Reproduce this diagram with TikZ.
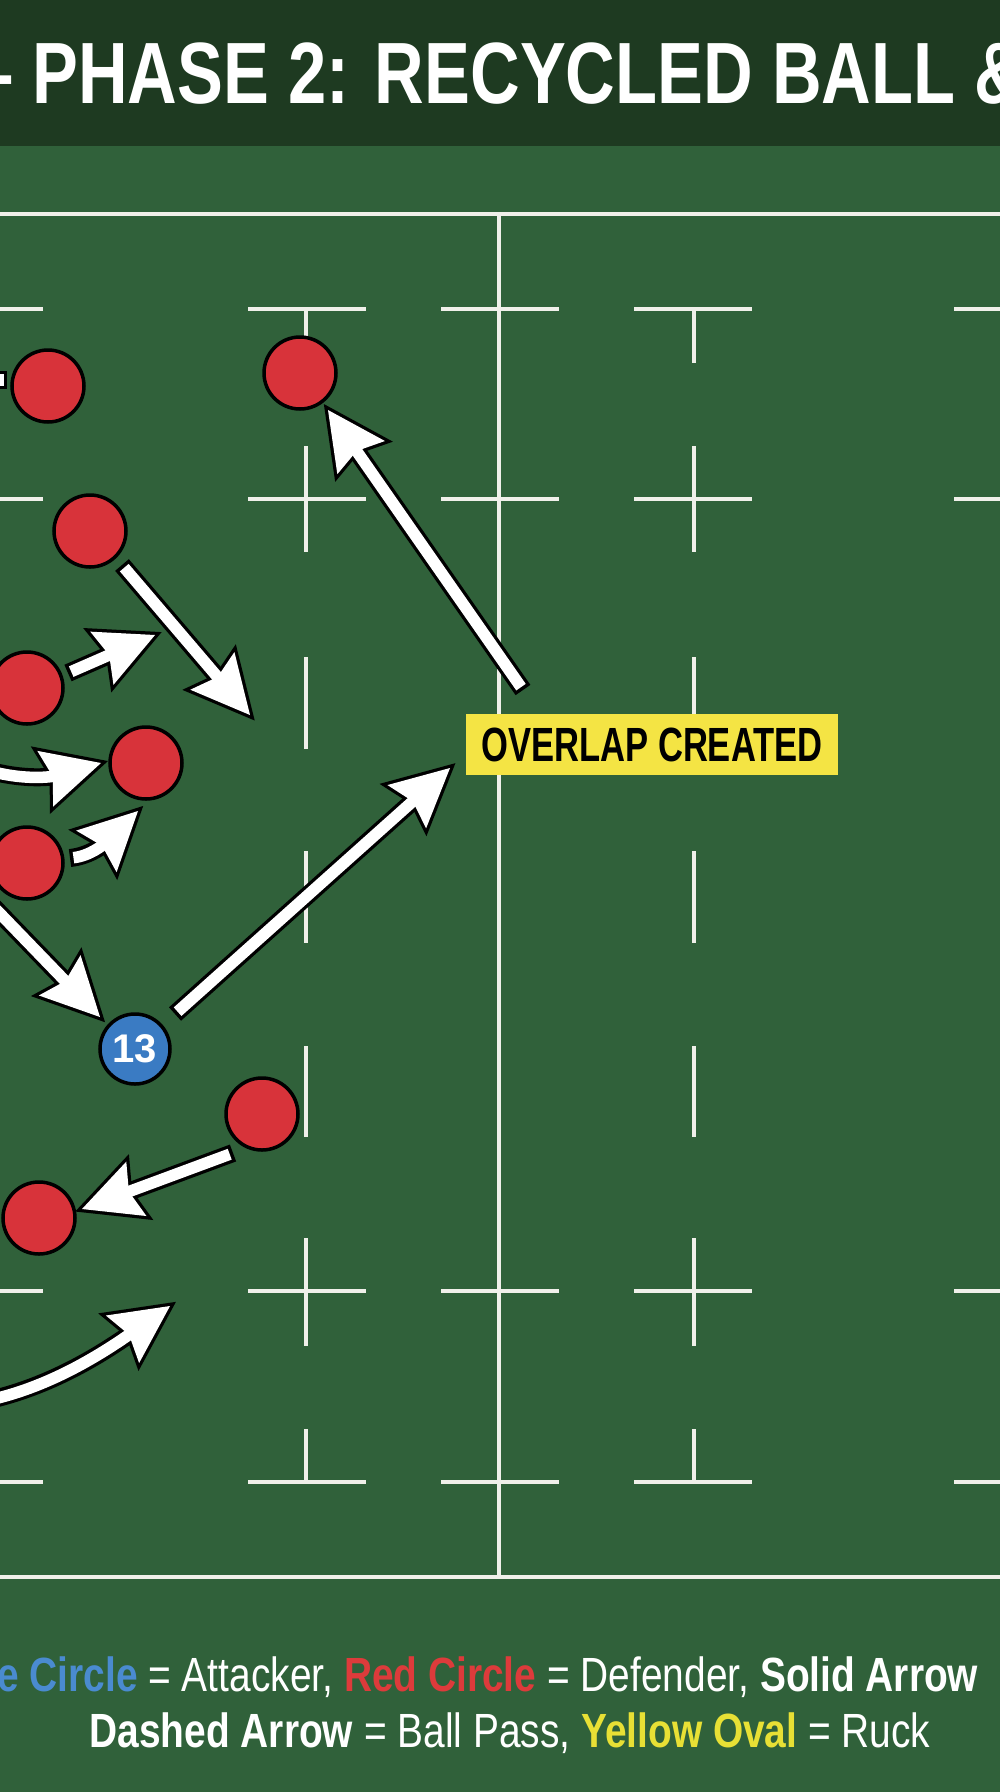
\documentclass[tikz,border=0pt]{standalone}
\usepackage{fontspec}
\setmainfont{Liberation Sans}
\newfontfamily\titlefont[FakeStretch=0.79]{Liberation Sans}
\newfontfamily\legfont[FakeStretch=0.81]{Liberation Sans}
\newfontfamily\labfont[FakeStretch=0.72]{Liberation Sans}
\usetikzlibrary{calc}
\definecolor{fieldgreen}{HTML}{30613A}
\definecolor{titlegreen}{HTML}{1E3A21}
\definecolor{linecol}{HTML}{F0F0EA}
\definecolor{defred}{HTML}{D8333A}
\definecolor{attblue}{HTML}{3A7BC3}
\definecolor{yellowbox}{HTML}{F4E444}
\definecolor{lblue}{HTML}{4A8BD0}
\definecolor{lred}{HTML}{DD3B3B}
\definecolor{lyellow}{HTML}{E8E035}
\newcommand\fatarrow[3]{%
  \draw[line width=18pt, black, shorten >=48pt] #1;
  \coordinate (hb) at ($(#3)!58pt!(#2)$);
  \coordinate (hn) at ($(#3)!50pt!(#2)$);
  \coordinate (hl) at ($(hb)!29pt!90:(#3)$);
  \coordinate (hr) at ($(hb)!29pt!-90:(#3)$);
  \filldraw[black, line width=6.5pt, line join=miter] (#3) -- (hl) -- (hn) -- (hr) -- cycle;
  \draw[line width=11.5pt, white, shorten >=48pt, shorten <=3.5pt] #1;
  \fill[white] (#3) -- (hl) -- (hn) -- (hr) -- cycle;
}
\tikzset{
  fline/.style={draw=linecol, line width=4.5pt},
  tickline/.style={draw=linecol, line width=4pt},
  defender/.style={circle, minimum size=72pt, inner sep=0pt, fill=defred, draw=black, line width=3.5pt},
  attacker/.style={circle, minimum size=70pt, inner sep=0pt, fill=attblue, draw=black, line width=3.5pt, text=white, font=\bfseries\fontsize{40}{40}\selectfont},
}
\begin{document}
\begin{tikzpicture}[x=1pt,y=-1pt]
\useasboundingbox (0,0) rectangle (1000,1792);
\clip (0,0) rectangle (1000,1792);
% background
\fill[fieldgreen] (0,0) rectangle (1000,1792);
\fill[titlegreen] (0,0) rectangle (1000,146);
\node[anchor=base west, inner sep=0pt, text=white, font=\titlefont\bfseries\fontsize{87}{90}\selectfont] (title) at (-25,103) {– PHASE 2: RECYCLED BALL \&};
% field lines
\draw[fline] (0,214) -- (1000,214);
\draw[fline] (0,1577) -- (1000,1577);
\draw[fline] (499,214) -- (499,1577);
\foreach \yy in {309,499,1291,1482}{
  \foreach \xa/\xb in {-5/43,248/366,441/559,634/752,954/1005}{
    \draw[tickline] (\xa,\yy) -- (\xb,\yy);
  }
}
\foreach \xx in {306,694}{
  \foreach \ya/\yb in {309/363,446/552,657/749,851/943,1046/1137,1238/1346,1429/1482}{
    \draw[tickline] (\xx,\ya) -- (\xx,\yb);
  }
}
% arrow endpoints
\coordinate (aT) at (523,690);  \coordinate (aH) at (328,410);
\coordinate (bT) at (122,565);  \coordinate (bH) at (250,715);
\coordinate (cT) at (68,673);   \coordinate (cH) at (155,635);
\coordinate (dT) at (-20,768);  \coordinate (dC1) at (25,782); \coordinate (dC2) at (55,776); \coordinate (dH) at (101,763);
\coordinate (eT) at (70,858);   \coordinate (eC1) at (90,856); \coordinate (eC2) at (104,844); \coordinate (eH) at (138,811);
\coordinate (fT) at (-15,898);  \coordinate (fH) at (100,1017);
\coordinate (gT) at (175,1014); \coordinate (gH) at (450,768);
\coordinate (hT) at (233,1153); \coordinate (hH) at (82,1209);
\coordinate (iT) at (-20,1402); \coordinate (iC1) at (40,1390); \coordinate (iC2) at (90,1362); \coordinate (iH) at (170,1306);
\coordinate (zA) at (-30,380);  \coordinate (zB) at (7,380);
% fragment of an arrow at the left edge
\draw[line width=18pt, black] (zA) -- (zB);
\draw[line width=11.5pt, white, shorten >=3.5pt] (zA) -- (zB);
% arrows
\fatarrow{(aT) -- (aH)}{aT}{aH}
\fatarrow{(bT) -- (bH)}{bT}{bH}
\fatarrow{(cT) -- (cH)}{cT}{cH}
\fatarrow{(dT) .. controls (dC1) and (dC2) .. (dH)}{dC2}{dH}
\fatarrow{(eT) .. controls (eC1) and (eC2) .. (eH)}{eC2}{eH}
\fatarrow{(fT) -- (fH)}{fT}{fH}
\fatarrow{(gT) -- (gH)}{gT}{gH}
\fatarrow{(hT) -- (hH)}{hT}{hH}
\fatarrow{(iT) .. controls (iC1) and (iC2) .. (iH)}{iC2}{iH}
% players
\node[defender] (d1) at (48,386) {};
\node[defender] (d2) at (300,373) {};
\node[defender] (d3) at (90,531) {};
\node[defender] (d4) at (27,688) {};
\node[defender] (d5) at (146,763) {};
\node[defender] (d6) at (27,863) {};
\node[defender] (d7) at (262,1114) {};
\node[defender] (d8) at (39,1218) {};
\node[attacker] (p13) at (135,1049) {13};
% label
\node[fill=yellowbox, minimum width=372pt, minimum height=61pt, inner sep=0pt, font=\labfont\bfseries\fontsize{48}{50}\selectfont, text=black] (overlap) at (652,744.5) {OVERLAP CREATED};
% legend
\node[anchor=base west, inner sep=0pt, text=white, font=\legfont\fontsize{48}{52}\selectfont] (leg1) at (-3,1691) {\textcolor{lblue}{\bfseries e Circle} = Attacker, \textcolor{lred}{\bfseries Red Circle} = Defender, \textbf{Solid Arrow}};
\node[anchor=base, inner sep=0pt, text=white, font=\legfont\fontsize{48}{52}\selectfont] (leg2) at (510,1747) {\textbf{Dashed Arrow} = Ball Pass, \textcolor{lyellow}{\bfseries Yellow Oval} = Ruck};
\end{tikzpicture}
\end{document}
